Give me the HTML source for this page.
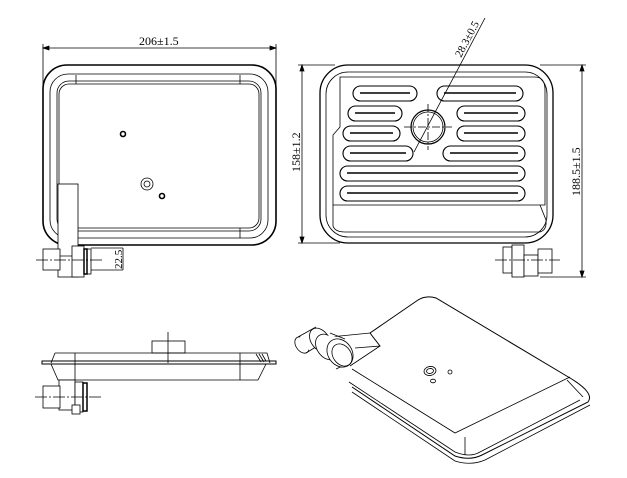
<!DOCTYPE html>
<html><head><meta charset="utf-8"><style>html,body{margin:0;padding:0;background:#fff}svg{display:block}</style></head><body>
<svg width="627" height="478" viewBox="0 0 627 478" xmlns="http://www.w3.org/2000/svg" font-family="Liberation Serif, serif" fill="none" stroke="#000" stroke-width="0.8">
<rect width="627" height="478" fill="#fff" stroke="none"/>
<!-- ========== TOP LEFT VIEW ========== -->
<line x1="43" y1="48" x2="276" y2="48"/>
<line x1="43" y1="44" x2="43" y2="200"/>
<line x1="276" y1="44" x2="276" y2="200"/>
<path d="M43 48 l6 -2 v4z M276 48 l-6 -2 v4z" fill="#000"/>
<text x="139" y="45" font-size="12" fill="#000" stroke="none">206±1.5</text>
<rect x="43" y="65" width="233" height="180" rx="24" stroke-width="1.6"/>
<rect x="50" y="74" width="218" height="164" rx="18"/>
<rect x="57" y="81" width="204" height="150" rx="12"/>
<rect x="59" y="84" width="200" height="144" rx="10"/>
<line x1="76" y1="75" x2="76" y2="84"/><line x1="240" y1="75" x2="240" y2="84"/>
<line x1="76" y1="228" x2="76" y2="238"/><line x1="240" y1="228" x2="240" y2="238"/>
<circle cx="123" cy="134" r="2.5" stroke-width="1.6"/>
<circle cx="147" cy="184" r="6"/><circle cx="147" cy="184" r="3"/>
<circle cx="162" cy="196" r="2.5" stroke-width="1.6"/>
<rect x="58" y="184" width="20" height="93" fill="#fff"/>
<line x1="58" y1="256" x2="78" y2="256"/>
<rect x="43" y="249" width="17" height="21" fill="#fff"/>
<rect x="72" y="246" width="12" height="31" fill="#fff"/>
<rect x="84" y="249" width="3" height="25" stroke-width="1.5"/>
<rect x="87" y="249" width="4" height="25"/>
<line x1="91" y1="248" x2="123" y2="248"/><line x1="91" y1="270" x2="123" y2="270"/>
<line x1="123" y1="248" x2="123" y2="270"/>
<line x1="36" y1="260" x2="102" y2="260" stroke-dasharray="12 2 2 2"/>
<text x="0" y="0" font-size="11" fill="#000" stroke="none" transform="translate(122,269) rotate(-90)">22.5</text>
<!-- ========== TOP RIGHT VIEW ========== -->
<line x1="302" y1="65" x2="302" y2="243"/>
<line x1="298" y1="65" x2="335" y2="65"/><line x1="298" y1="243" x2="340" y2="243"/>
<path d="M302 65 l-2 6 h4z M302 243 l-2 -6 h4z" fill="#000"/>
<text x="0" y="0" font-size="12" fill="#000" stroke="none" transform="translate(300,172) rotate(-90)">158±1.2</text>
<line x1="582" y1="65" x2="582" y2="277"/>
<line x1="540" y1="65" x2="586" y2="65"/><line x1="540" y1="277" x2="586" y2="277"/>
<path d="M582 65 l-2 6 h4z M582 277 l-2 -6 h4z" fill="#000"/>
<text x="0" y="0" font-size="12" fill="#000" stroke="none" transform="translate(580,196) rotate(-90)">188.5±1.5</text>
<rect x="320" y="65" width="233" height="178" rx="28" stroke-width="1.3"/>
<rect x="326" y="72" width="221" height="165" rx="22"/>
<path d="M340 77 H535 Q545 77 545 90 V205 H333 V135 L340 127 Z"/>
<path d="M333 205 L333 226 Q335 232 345 232 H540 Q547 230 546 220 L540 205"/>
<g stroke-width="1.1">
<rect x="353" y="86" width="64" height="15" rx="7.5"/><line x1="360" y1="93" x2="410" y2="93" stroke-width="1.6"/>
<rect x="437" y="86" width="86" height="15" rx="7.5"/><line x1="444" y1="93" x2="516" y2="93" stroke-width="1.6"/>
<rect x="348" y="106" width="54" height="15" rx="7.5"/><line x1="355" y1="113" x2="395" y2="113" stroke-width="1.6"/>
<rect x="457" y="106" width="68" height="15" rx="7.5"/><line x1="464" y1="113" x2="518" y2="113" stroke-width="1.6"/>
<rect x="343" y="126" width="57" height="15" rx="7.5"/><line x1="350" y1="133" x2="393" y2="133" stroke-width="1.6"/>
<rect x="457" y="126" width="68" height="15" rx="7.5"/><line x1="464" y1="133" x2="518" y2="133" stroke-width="1.6"/>
<rect x="343" y="146" width="70" height="15" rx="7.5"/><line x1="350" y1="153" x2="406" y2="153" stroke-width="1.6"/>
<rect x="443" y="146" width="82" height="15" rx="7.5"/><line x1="450" y1="153" x2="518" y2="153" stroke-width="1.6"/>
<rect x="340" y="166" width="185" height="15" rx="7.5"/><line x1="347" y1="173" x2="518" y2="173" stroke-width="1.6"/>
<rect x="340" y="186" width="185" height="15" rx="7.5"/><line x1="347" y1="193" x2="518" y2="193" stroke-width="1.6"/>
</g>
<circle cx="428" cy="127" r="17" stroke-width="1.2"/><circle cx="428" cy="127" r="15"/>
<line x1="404" y1="127" x2="452" y2="127" stroke-dasharray="8 2 2 2"/>
<line x1="428" y1="104" x2="428" y2="150" stroke-dasharray="8 2 2 2"/>
<line x1="485" y1="18" x2="414" y2="152"/>
<text x="0" y="0" font-size="11" fill="#000" stroke="none" transform="translate(461,58) rotate(-62)">28.3±0.5</text>
<rect x="503" y="247" width="9" height="26" fill="#fff"/>
<rect x="512" y="245" width="12" height="32" fill="#fff"/>
<rect x="524" y="255" width="14" height="21" fill="#fff"/>
<rect x="538" y="249" width="14" height="24" fill="#fff"/>
<line x1="495" y1="260" x2="560" y2="260" stroke-dasharray="12 2 2 2"/>
<!-- ========== BOTTOM LEFT SIDE VIEW ========== -->
<rect x="152" y="341" width="33" height="12"/>
<line x1="168" y1="332" x2="168" y2="363"/>
<path d="M55 353 H267 L270 363"/><line x1="55" y1="353" x2="51" y2="363"/>
<rect x="42" y="361" width="234" height="3" stroke-width="1"/>
<path d="M51 364 L58 380 H258 L266 364"/>
<line x1="75" y1="353" x2="75" y2="380"/><line x1="240" y1="353" x2="240" y2="380"/>
<path d="M256 354 l5 8 M259 354 l5 8 M262 354 l4 7"/>
<rect x="59" y="380" width="16" height="30" fill="#fff"/>
<rect x="43" y="386" width="17" height="22" fill="#fff"/>
<rect x="75" y="382" width="8" height="30" fill="#fff"/>
<rect x="83" y="383" width="4" height="28" stroke-width="1.5"/>
<rect x="72" y="405" width="8" height="9" fill="#fff"/>
<line x1="35" y1="397" x2="102" y2="397" stroke-dasharray="12 2 2 2"/>
<!-- ========== ISOMETRIC VIEW ========== -->
<path d="M370 333 L418 300 Q426 295 436 298 L570 378 Q595 393 588 402 L482 455 Q470 461 455 456 L352 387" stroke-width="1"/>
<path d="M352 392 L455 461 Q471 466 485 460 L590 405" />
<path d="M349 382 L455 452 Q470 458 480 452 L580 400"/>
<path d="M352 369 L455 433 L570 377"/>
<line x1="465" y1="437" x2="465" y2="455"/><line x1="567" y1="380" x2="583" y2="397"/>
<path d="M350 366 L380 346 L370 333"/>
<path d="M330 337 L370 333 L380 346 L355 348"/>
<circle cx="450" cy="372" r="2"/>
<ellipse cx="430" cy="371" rx="3.5" ry="2.5" transform="rotate(-10 430 371)"/>
<ellipse cx="430" cy="371" rx="6" ry="4.5" transform="rotate(-10 430 371)"/>
<ellipse cx="433" cy="381" rx="2.5" ry="1.8"/>
<ellipse cx="302" cy="345" rx="6" ry="9" transform="rotate(-35 302 345)" fill="#fff"/>
<path d="M300 337 L318 326 L338 345 L316 360 Z" fill="#fff" stroke="none"/>
<path d="M298 337 L316 327 M306 353 L324 342"/>
<ellipse cx="320" cy="340" rx="9" ry="13" transform="rotate(-35 320 340)" fill="#fff"/>
<ellipse cx="327" cy="347" rx="10" ry="14" transform="rotate(-35 327 347)" fill="#fff"/>
<path d="M328 334 L345 340 L352 362 L337 368 Z" fill="#fff" stroke="none"/>
<path d="M330 333 L345 339 M336 369 L351 362"/>
<ellipse cx="340" cy="353" rx="12" ry="15" transform="rotate(-35 340 353)" fill="#fff"/>
<ellipse cx="342" cy="355" rx="9" ry="12" transform="rotate(-35 342 355)"/>
</svg>
</body></html>
